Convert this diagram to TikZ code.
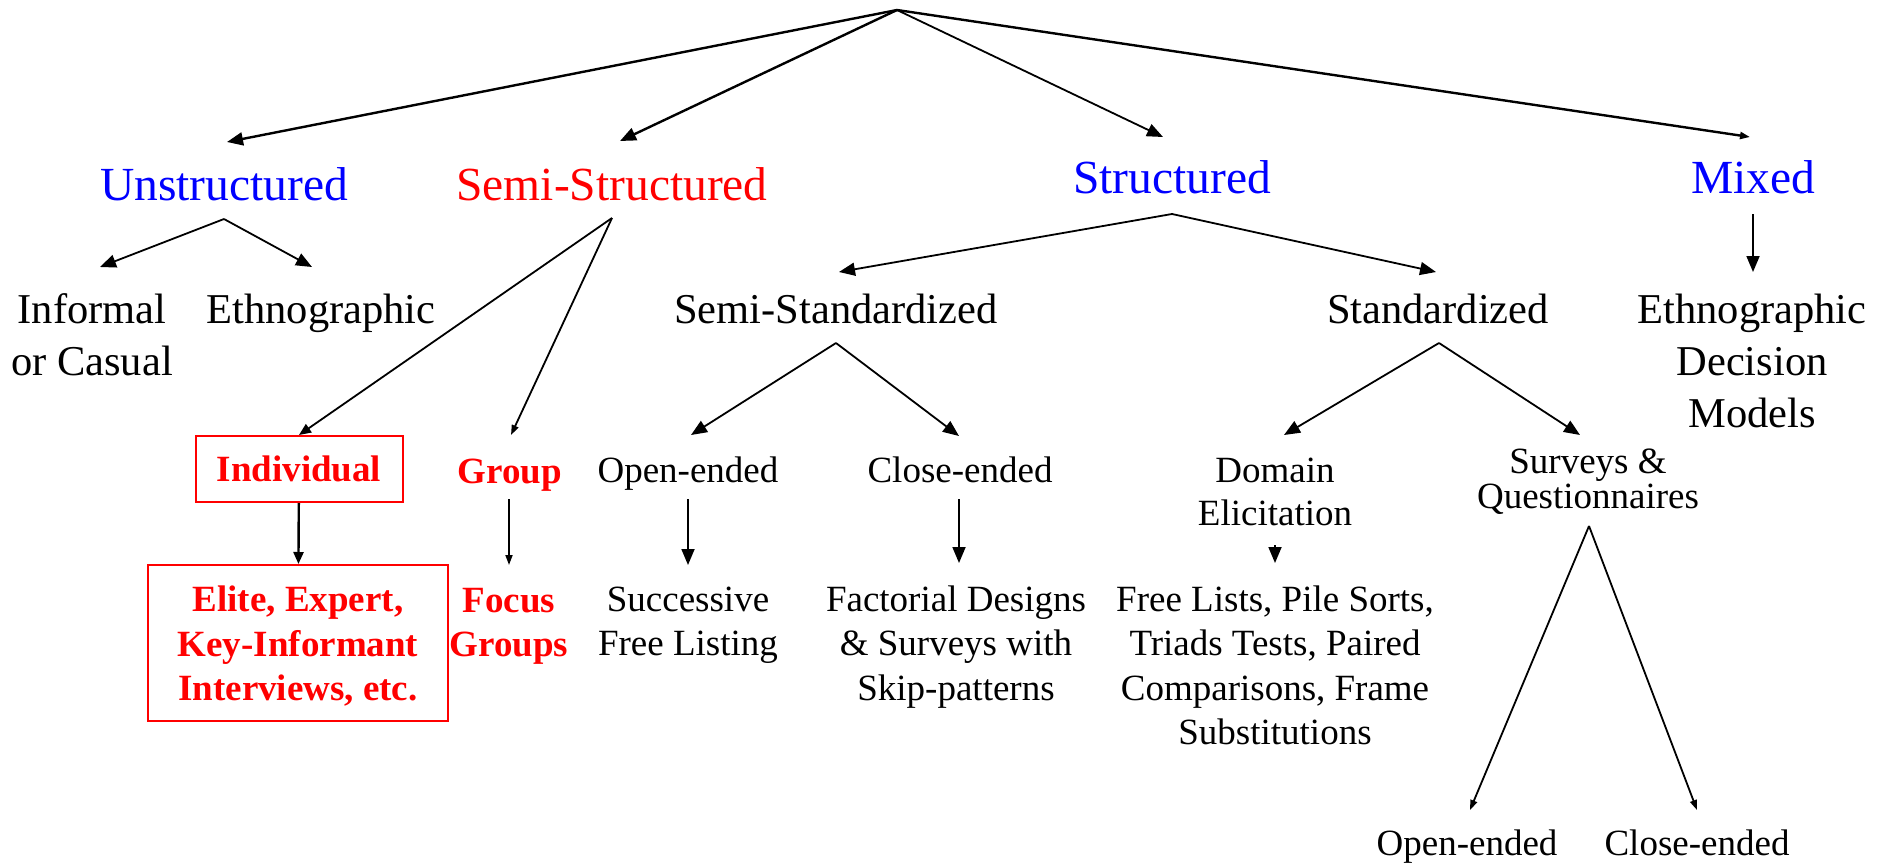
\documentclass[tikz,border=0pt]{standalone}
\usepackage{fontspec}
\setmainfont{Liberation Serif}
\usetikzlibrary{arrows.meta}
% centred multi-line text whose baseline is that of its first line
\newcommand\mlines[1]{\begin{tabular}[t]{@{}c@{}}#1\end{tabular}}

\begin{document}
\begin{tikzpicture}[x=1pt,y=-1pt,
  every node/.style={inner sep=0pt, anchor=base},
  toplevel/.style={font=\fontsize{47.5}{57}\selectfont, text=blue},
  sublevel/.style={font=\fontsize{42.5}{52}\selectfont},
  leaf/.style={font=\fontsize{37}{44.5}\selectfont},
  hot/.style={font=\fontsize{37}{44.5}\selectfont\bfseries, text=red},
  redbox/.style={draw=red, line width=2pt, anchor=center},
  link/.style={line width=1.8pt, -{Triangle[length=16pt,width=13pt]}},
  linkmid/.style={line width=1.8pt, -{Triangle[length=12pt,width=10pt]}},
  linksmall/.style={line width=1.8pt, -{Triangle[length=10pt,width=7pt]}},
  heavy/.style={line width=2.4pt}]

\useasboundingbox (0,0) rectangle (1887,865);

% ---- text nodes ----
\node[toplevel] (unstr) at (224,200) {Unstructured};
\node[toplevel, text=red] (semis) at (612,200) {Semi-Structured};
\node[toplevel] (struct) at (1172,193) {Structured};
\node[toplevel] (mixed) at (1753,193) {Mixed};

\node[sublevel] (informal) at (92,323) {\mlines{Informal\\or Casual}};
\node[sublevel] (ethno) at (321,323) {Ethnographic};
\node[sublevel] (semistd) at (836,323) {Semi-Standardized};
\node[sublevel] (std) at (1438,323) {Standardized};
\node[sublevel] (edm) at (1752,323) {\mlines{Ethnographic\\Decision\\Models}};

\node[hot, redbox, minimum width=207pt, minimum height=66pt] (indiv) at (299,469) {Individual};
\node[hot] (group) at (510,483) {Group};
\node[leaf] (open) at (688,482) {Open-ended};
\node[leaf] (close) at (960,482) {Close-ended};
\node[leaf, font=\fontsize{37}{43}\selectfont] (domain) at (1275,482) {\mlines{Domain\\Elicitation}};
\node[leaf, font=\fontsize{37}{35}\selectfont] (surveys) at (1588,473) {\mlines{Surveys \&\\Questionnaires}};

\node[hot, redbox, minimum width=300pt, minimum height=156pt, text height=40pt] (elite) at (298,643)
  {\mlines{Elite, Expert,\\Key-Informant\\Interviews, etc.}};
\node[hot] (focus) at (509,612) {\mlines{Focus\\Groups}};
\node[leaf] (succ) at (688,611) {\mlines{Successive\\Free Listing}};
\node[leaf] (fact) at (956,611) {\mlines{Factorial Designs\\\& Surveys with\\Skip-patterns}};
\node[leaf] (lists) at (1275,611) {\mlines{Free Lists, Pile Sorts,\\Triads Tests, Paired\\Comparisons, Frame\\Substitutions}};
\node[leaf] (sopen) at (1467,855) {Open-ended};
\node[leaf] (sclose) at (1697,855) {Close-ended};

% ---- fork points and arrow ends ----
\coordinate (root) at (897,10);
\coordinate (unstr-in) at (227,142);
\coordinate (semis-in) at (620,141);
\coordinate (struct-in) at (1163,137);
\coordinate (mixed-in) at (1750,137);

\coordinate (unstr-fork) at (224,219);
\coordinate (informal-in) at (100,267);
\coordinate (ethno-in) at (312,267);

\coordinate (semis-fork) at (612,218);
\coordinate (group-in) at (511,435);

\coordinate (struct-fork) at (1172,214);
\coordinate (semistd-in) at (839,272);
\coordinate (std-in) at (1436,272);

\coordinate (mixed-fork) at (1753,214);
\coordinate (edm-in) at (1753,272);

\coordinate (semistd-fork) at (836,343);
\coordinate (open-in) at (691,435);
\coordinate (close-in) at (959,436);

\coordinate (std-fork) at (1439,343);
\coordinate (domain-in) at (1284,435);
\coordinate (surveys-in) at (1580,435);

\coordinate (group-out) at (509,499);
\coordinate (focus-in) at (509,565);
\coordinate (open-out) at (688,499);
\coordinate (succ-in) at (688,565);
\coordinate (close-out) at (959,499);
\coordinate (fact-in) at (959,563);
\coordinate (domain-out) at (1275,545);
\coordinate (lists-in) at (1275,563);

\coordinate (surveys-fork) at (1589,526);
\coordinate (sopen-in) at (1470,810);
\coordinate (sclose-in) at (1697,810);

% ---- connectors ----
\draw[link, heavy] (root) -- (unstr-in);
\draw[link, heavy] (root) -- (semis-in);
\draw[link] (root) -- (struct-in);
\draw[linksmall, heavy] (root) -- (mixed-in);

\draw[link] (unstr-fork) -- (informal-in);
\draw[link] (unstr-fork) -- (ethno-in);

\draw[linkmid] (semis-fork) -- (indiv.north);
\draw[linksmall] (semis-fork) -- (group-in);

\draw[link] (struct-fork) -- (semistd-in);
\draw[link] (struct-fork) -- (std-in);

\draw[link] (mixed-fork) -- (edm-in);

\draw[link] (semistd-fork) -- (open-in);
\draw[link] (semistd-fork) -- (close-in);

\draw[link] (std-fork) -- (domain-in);
\draw[link] (std-fork) -- (surveys-in);

\draw[linkmid, heavy] (indiv) -- (elite);
\draw[linksmall] (group-out) -- (focus-in);
\draw[link] (open-out) -- (succ-in);
\draw[link] (close-out) -- (fact-in);
\draw[link] (domain-out) -- (lists-in);

\draw[linksmall] (surveys-fork) -- (sopen-in);
\draw[linksmall] (surveys-fork) -- (sclose-in);
\end{tikzpicture}
\end{document}
